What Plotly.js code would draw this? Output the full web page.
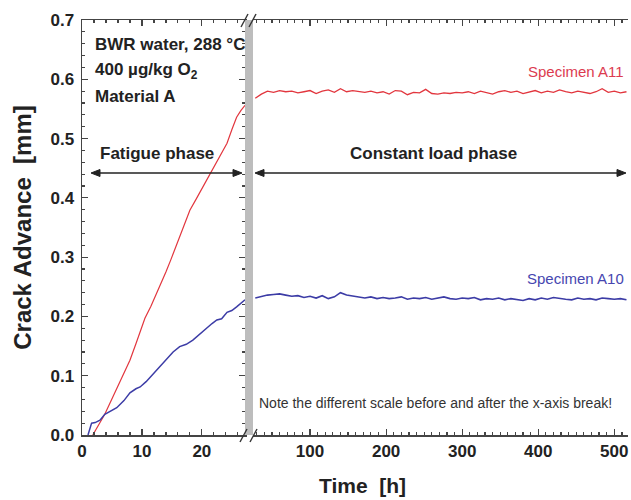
<!DOCTYPE html>
<html>
<head>
<meta charset="utf-8">
<script src="https://cdn.plot.ly/plotly-3.0.1.min.js"></script>
<style>html,body{margin:0;padding:0;background:#fff;}#chart{width:631px;height:500px;}</style>
</head>
<body>
<div id="chart"></div>
<script>
// ---- data ----
const redLeftTime = [1.8, 2.5, 3.2, 3.8, 4.5, 5.2, 6, 7, 8, 9, 10, 10.5, 11.5, 12.3, 13, 14, 14.8, 15.8, 17, 18, 19, 20, 21.3, 22.2, 23, 24.2, 25, 25.8, 26.5, 27.2];
const redLeft = [0, 0.012, 0.024, 0.035, 0.05, 0.065, 0.082, 0.104, 0.126, 0.154, 0.183, 0.197, 0.217, 0.235, 0.25, 0.275, 0.295, 0.321, 0.352, 0.379, 0.397, 0.415, 0.438, 0.455, 0.47, 0.492, 0.515, 0.536, 0.547, 0.556];
const blueLeftTime = [1.0, 1.3, 1.6, 2.2, 3.0, 3.8, 4.8, 5.8, 7, 8, 9, 9.7, 10.7, 11.7, 13, 14.2, 15.2, 16.3, 17.4, 18.5, 19.6, 20.8, 21.7, 22.5, 23.3, 24.2, 25, 25.8, 26.5, 27.2];
const blueLeft = [0, 0.012, 0.02, 0.021, 0.025, 0.035, 0.04, 0.046, 0.058, 0.071, 0.078, 0.081, 0.09, 0.101, 0.116, 0.13, 0.14, 0.149, 0.153, 0.16, 0.17, 0.18, 0.188, 0.194, 0.196, 0.207, 0.21, 0.216, 0.222, 0.228];
const rightTime = [28, 36, 44, 52, 60, 68, 76, 84, 92, 100, 108, 116, 124, 132, 140, 148, 156, 164, 172, 180, 188, 196, 204, 212, 220, 228, 236, 244, 252, 260, 268, 276, 284, 292, 300, 308, 316, 324, 332, 340, 348, 356, 364, 372, 380, 388, 396, 404, 412, 420, 428, 436, 444, 452, 460, 468, 476, 484, 492, 500, 508, 516];
const redRight = [0.568, 0.575, 0.580, 0.578, 0.581, 0.579, 0.580, 0.577, 0.579, 0.581, 0.576, 0.580, 0.582, 0.578, 0.584, 0.579, 0.581, 0.580, 0.578, 0.580, 0.577, 0.579, 0.575, 0.581, 0.580, 0.574, 0.578, 0.577, 0.583, 0.576, 0.575, 0.577, 0.576, 0.578, 0.577, 0.579, 0.576, 0.580, 0.578, 0.575, 0.579, 0.581, 0.578, 0.580, 0.576, 0.579, 0.581, 0.577, 0.580, 0.578, 0.582, 0.579, 0.577, 0.580, 0.578, 0.576, 0.579, 0.584, 0.578, 0.580, 0.577, 0.579];
const blueRight = [0.231, 0.234, 0.236, 0.237, 0.238, 0.236, 0.234, 0.235, 0.232, 0.234, 0.231, 0.235, 0.230, 0.233, 0.240, 0.236, 0.234, 0.232, 0.231, 0.233, 0.230, 0.232, 0.230, 0.231, 0.233, 0.229, 0.231, 0.230, 0.232, 0.229, 0.231, 0.233, 0.230, 0.229, 0.231, 0.230, 0.232, 0.228, 0.230, 0.229, 0.231, 0.228, 0.230, 0.229, 0.227, 0.230, 0.228, 0.231, 0.229, 0.232, 0.230, 0.229, 0.228, 0.231, 0.229, 0.230, 0.228, 0.231, 0.230, 0.229, 0.230, 0.228];
const seriesNames = ['Specimen A11', 'Specimen A10'];
const leftTicks = [0, 10, 20];
const rightTicks = [100, 200, 300, 400, 500];

// ---- layout helpers ----
const L = 82, R = 628, T = 20, B = 435;
const px = v => (v - L) / (R - L);
const py = v => (B - v) / (B - T);
const SANS = 'Liberation Sans, Arial, sans-serif';
const RED = '#e2363e', BLUE = '#3c3ca6', INK = '#222222';

const traces = [
  {x: redLeftTime, y: redLeft, xaxis: 'x', yaxis: 'y', mode: 'lines', line: {color: RED, width: 1.2}, name: seriesNames[0], showlegend: false},
  {x: blueLeftTime, y: blueLeft, xaxis: 'x', yaxis: 'y', mode: 'lines', line: {color: BLUE, width: 1.5}, name: seriesNames[1], showlegend: false},
  {x: rightTime, y: redRight, xaxis: 'x2', yaxis: 'y', mode: 'lines', line: {color: RED, width: 1.3}, name: seriesNames[0], showlegend: false},
  {x: rightTime, y: blueRight, xaxis: 'x2', yaxis: 'y', mode: 'lines', line: {color: BLUE, width: 1.6}, name: seriesNames[1], showlegend: false}
];

const tickFont = {family: SANS, size: 17, color: INK, weight: 'bold'};
const axisCommon = {
  showline: true, linecolor: '#444', linewidth: 1.5, mirror: 'ticks',
  ticks: 'inside', ticklen: 6, tickwidth: 1.2, tickcolor: '#444',
  showgrid: false, zeroline: false, tickfont: tickFont, fixedrange: true
};

// double-headed arrow drawn as shapes (pixel positions converted to paper)
function arrowShapes(x0, x1, y) {
  const h = 9, w = 3.5;
  const P = (a, b) => px(a) + ' ' + py(b);
  return [
    {type: 'line', xref: 'paper', yref: 'paper', x0: px(x0 + 4), x1: px(x1 - 4), y0: py(y), y1: py(y), line: {color: INK, width: 1.6}},
    {type: 'path', xref: 'paper', yref: 'paper', path: 'M ' + P(x0, y) + ' L ' + P(x0 + h, y - w) + ' L ' + P(x0 + h, y + w) + ' Z', fillcolor: INK, line: {color: INK, width: 1}},
    {type: 'path', xref: 'paper', yref: 'paper', path: 'M ' + P(x1, y) + ' L ' + P(x1 - h, y - w) + ' L ' + P(x1 - h, y + w) + ' Z', fillcolor: INK, line: {color: INK, width: 1}}
  ];
}

const layout = {
  width: 631, height: 500,
  margin: {l: L, r: 631 - R, t: T, b: 500 - B},
  paper_bgcolor: '#ffffff', plot_bgcolor: '#ffffff',
  showlegend: false,
  xaxis: Object.assign({}, axisCommon, {
    domain: [0, px(245)], range: [0, 27.2], anchor: 'y',
    tickvals: leftTicks, ticktext: leftTicks.map(String),
    minor: {dtick: 2, tick0: 0, ticks: 'inside', ticklen: 3, tickcolor: '#444'}
  }),
  xaxis2: Object.assign({}, axisCommon, {
    domain: [px(253), 1], range: [25, 518], anchor: 'y',
    tickvals: rightTicks, ticktext: rightTicks.map(String),
    minor: {dtick: 10, tick0: 0, ticks: 'inside', ticklen: 3, tickcolor: '#444'}
  }),
  yaxis: Object.assign({}, axisCommon, {
    range: [0, 0.7], dtick: 0.1, tick0: 0, tickformat: '.1f', ticklabelstandoff: 3,
    minor: {dtick: 0.02, tick0: 0, ticks: 'inside', ticklen: 3, tickcolor: '#444'},
    title: {text: 'Crack Advance  [mm]', font: {family: SANS, size: 24, color: INK, weight: 'bold'}, standoff: 12}
  }),
  shapes: [
    {type: 'rect', xref: 'paper', yref: 'paper', x0: px(245), x1: px(253), y0: 0, y1: 1, fillcolor: '#bdbdbd', line: {width: 0}, layer: 'above'},
    {type: 'line', xref: 'paper', yref: 'paper', x0: px(241), y0: py(27), x1: px(248), y1: py(14), line: {color: '#333', width: 1.4}},
    {type: 'line', xref: 'paper', yref: 'paper', x0: px(249), y0: py(27), x1: px(256), y1: py(14), line: {color: '#333', width: 1.4}},
    {type: 'line', xref: 'paper', yref: 'paper', x0: px(240), y0: py(442), x1: px(247), y1: py(429), line: {color: '#333', width: 1.4}},
    {type: 'line', xref: 'paper', yref: 'paper', x0: px(250), y0: py(442), x1: px(257), y1: py(429), line: {color: '#333', width: 1.4}}
  ].concat(arrowShapes(91, 242, 173), arrowShapes(255, 626, 173)),
  annotations: [
    {xref: 'paper', yref: 'paper', x: px(93), y: py(44), xanchor: 'left', yanchor: 'middle', showarrow: false, text: 'BWR water, 288 °C', font: {family: SANS, size: 17, color: INK, weight: 'bold'}},
    {xref: 'paper', yref: 'paper', x: px(93), y: py(71), xanchor: 'left', yanchor: 'middle', showarrow: false, text: '400 µg/kg O<sub>2</sub>', font: {family: SANS, size: 17, color: INK, weight: 'bold'}},
    {xref: 'paper', yref: 'paper', x: px(93), y: py(97), xanchor: 'left', yanchor: 'middle', showarrow: false, text: 'Material A', font: {family: SANS, size: 17, color: INK, weight: 'bold'}},
    {xref: 'x', yref: 'y', x: 12.5, y: 0.475, xanchor: 'center', yanchor: 'middle', showarrow: false, text: 'Fatigue phase', font: {family: SANS, size: 17, color: INK, weight: 'bold'}},
    {xref: 'x2', yref: 'y', x: 262, y: 0.475, xanchor: 'center', yanchor: 'middle', showarrow: false, text: 'Constant load phase', font: {family: SANS, size: 17, color: INK, weight: 'bold'}},
    {xref: 'paper', yref: 'paper', x: px(626), y: py(71), xanchor: 'right', yanchor: 'middle', showarrow: false, text: seriesNames[0], font: {family: SANS, size: 15, color: '#dc3b4f'}},
    {xref: 'paper', yref: 'paper', x: px(626), y: py(278), xanchor: 'right', yanchor: 'middle', showarrow: false, text: seriesNames[1], font: {family: SANS, size: 15, color: '#4646b0'}},
    {xref: 'paper', yref: 'paper', x: px(257), y: py(403), xanchor: 'left', yanchor: 'middle', showarrow: false, text: 'Note the different scale before and after the x-axis break!', font: {family: SANS, size: 14, color: '#333'}},
    {xref: 'paper', yref: 'paper', x: px(362), y: py(485), xanchor: 'center', yanchor: 'middle', showarrow: false, text: 'Time  [h]', font: {family: SANS, size: 21, color: INK, weight: 'bold'}}
  ]
};

Plotly.newPlot('chart', traces, layout, {staticPlot: true, displayModeBar: false});
</script>
</body>
</html>
